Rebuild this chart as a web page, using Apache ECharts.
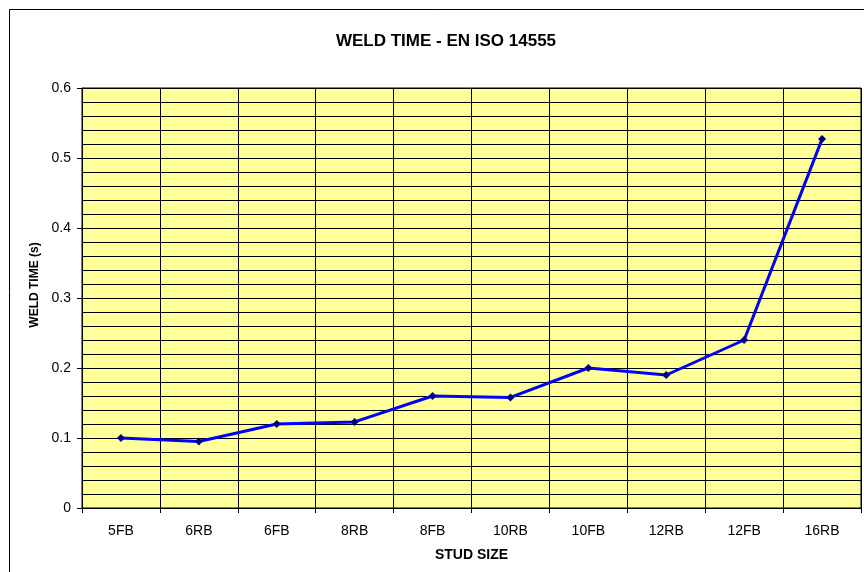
<!DOCTYPE html>
<html>
<head>
<meta charset="utf-8">
<script src="https://cdn.jsdelivr.net/npm/echarts@6/dist/echarts.min.js"></script>
<style>
html,body{margin:0;padding:0;background:#fff;}
#chart{width:864px;height:572px;}
</style>
</head>
<body>
<div id="chart"></div>
<script>
var categories = ['5FB','6RB','6FB','8RB','8FB','10RB','10FB','12RB','12FB','16RB'];
var weldTime = [0.100, 0.095, 0.120, 0.123, 0.160, 0.158, 0.200, 0.190, 0.240, 0.527];
var titleText = 'WELD TIME - EN ISO 14555';
var yName = 'WELD TIME (s)';
var xName = 'STUD SIZE';

var chart = echarts.init(document.getElementById('chart'), null, {renderer: 'canvas'});
var font = 'Arial, "Liberation Sans", sans-serif';
chart.setOption({
  animation: false,
  backgroundColor: '#fff',
  graphic: [{
    type: 'rect',
    shape: {x: 9.5, y: 9.5, width: 900, height: 700},
    style: {fill: 'none', stroke: '#000', lineWidth: 1},
    silent: true
  }],
  title: {
    text: titleText,
    left: 441, top: 28, textAlign: 'center',
    textStyle: {fontFamily: font, fontSize: 17, fontWeight: 'bold', color: '#000'}
  },
  grid: {
    left: 82, right: 3, top: 88, bottom: 64,
    show: true, backgroundColor: '#FFFF99', borderColor: '#000', borderWidth: 1
  },
  xAxis: {
    type: 'category',
    data: categories,
    boundaryGap: true,
    name: xName,
    nameLocation: 'middle',
    nameGap: 40,
    nameTextStyle: {fontFamily: font, fontSize: 14, fontWeight: 'bold', color: '#000'},
    axisLine: {lineStyle: {color: '#000', width: 1}},
    axisTick: {show: true, length: 5, interval: 0, lineStyle: {color: '#000'}},
    axisLabel: {fontFamily: font, fontSize: 14, color: '#000', margin: 16, interval: 0},
    splitLine: {show: true, interval: 0, lineStyle: {color: '#000', width: 1}}
  },
  yAxis: {
    type: 'value',
    min: 0, max: 0.6, interval: 0.1,
    name: yName,
    nameLocation: 'middle',
    nameGap: 40,
    nameRotate: 90,
    nameTextStyle: {fontFamily: font, fontSize: 12, fontWeight: 'bold', color: '#000', padding: [0, 0, 0, 26]},
    axisLine: {show: true, lineStyle: {color: '#000', width: 1}},
    axisTick: {show: true, length: 5, lineStyle: {color: '#000'}},
    axisLabel: {fontFamily: font, fontSize: 14, color: '#000', margin: 11,
      formatter: function(v){ return String(Math.round(v*10)/10); }},
    splitLine: {show: true, lineStyle: {color: '#000', width: 1}},
    minorTick: {show: false, splitNumber: 5},
    minorSplitLine: {show: true, lineStyle: {color: '#000', width: 1}}
  },
  series: [{
    type: 'line',
    data: weldTime,
    symbol: 'diamond',
    symbolSize: 8,
    lineStyle: {color: '#0000FF', width: 3},
    itemStyle: {color: '#000080'}
  }]
});
</script>
</body>
</html>
